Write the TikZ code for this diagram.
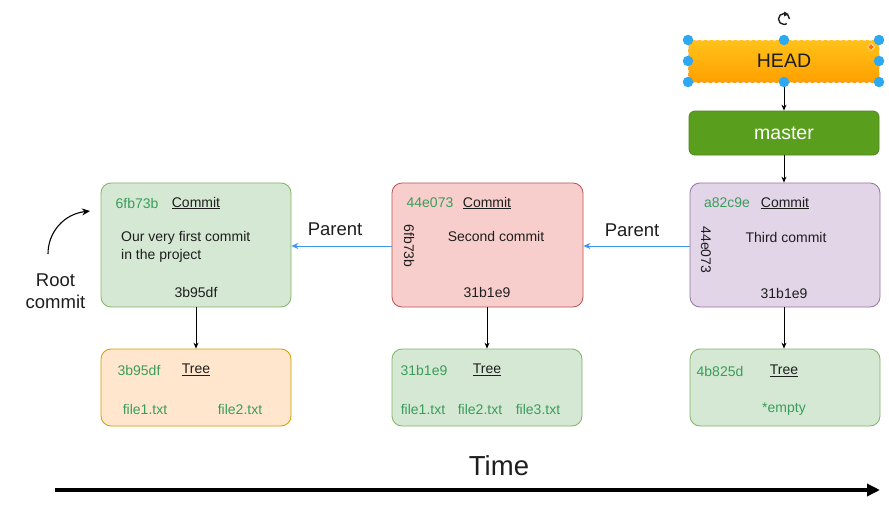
\documentclass[tikz,border=0pt]{standalone}
\usepackage{fontspec}
\setmainfont{Liberation Sans}
\usetikzlibrary{arrows.meta,shapes.geometric}
\definecolor{gfill}{HTML}{D5E8D4}\definecolor{gline}{HTML}{82B366}
\definecolor{rfill}{HTML}{F8CECC}\definecolor{rline}{HTML}{B85450}
\definecolor{pfill}{HTML}{E1D5E7}\definecolor{pline}{HTML}{9673A6}
\definecolor{ofill}{HTML}{FFE6CC}\definecolor{oline}{HTML}{D79B00}
\definecolor{hash}{HTML}{3A9D5B}
\definecolor{txt}{HTML}{1E1E1E}
\definecolor{blu}{HTML}{3C96F0}
\definecolor{masterc}{HTML}{5A9E1E}
\definecolor{headtop}{HTML}{FFC21A}\definecolor{headbot}{HTML}{FFA000}
\definecolor{handle}{HTML}{2EA8F0}
\tikzset{
  box/.style={draw, rounded corners=10pt, line width=0.8pt},
  lbl/.style={font=\fontsize{14}{16}\selectfont, text=txt, inner sep=0pt},
  hsh/.style={font=\fontsize{14}{16}\selectfont, text=hash, inner sep=0pt},
  und/.style={font=\fontsize{14}{16}\selectfont, text=txt, inner sep=0pt},
  conn/.style={-{Stealth[length=6pt,width=5pt]}, line width=0.9pt, black},
  parc/.style={-{Stealth[length=7pt,width=6pt]}, line width=0.8pt, blu},
  hnd/.style={circle, fill=handle, inner sep=0pt, minimum size=10.5pt},
  big/.style={font=\fontsize{18.5}{22}\selectfont, text=txt},
}
\newcommand{\ul}[1]{\underline{#1}}
\begin{document}
\begin{tikzpicture}[x=1pt,y=-1pt]
\useasboundingbox[fill=white] (0,0) rectangle (889,506);
% HEAD
\shade[top color=headtop, bottom color=headbot, draw=white!70!orange, dashed, line width=0.5pt] (688,40) rectangle (879,82);
\node[font=\fontsize{19.5}{22}\selectfont, text=txt] (head) at (784,61) {HEAD};
\coordinate (headb) at (784,82);
% master
\node[box, rounded corners=6pt, fill=masterc, draw=masterc!85!black, minimum width=190pt, minimum height=44pt, inner sep=0pt, text=white, font=\fontsize{19.5}{22}\selectfont] (master) at (784,133) {master};
% commits
\node[box, fill=gfill, draw=gline, minimum width=190pt, minimum height=124pt] (c1) at (196,245) {};
\node[box, fill=rfill, draw=rline, minimum width=191pt, minimum height=124pt] (c2) at (487.5,245) {};
\node[box, fill=pfill, draw=pline, minimum width=190pt, minimum height=124pt] (c3) at (785,245) {};
% trees
\node[box, fill=ofill, draw=oline, minimum width=190pt, minimum height=77pt] (t1) at (196,387.5) {};
\node[box, fill=gfill, draw=gline, minimum width=190pt, minimum height=77pt] (t2) at (487,387.5) {};
\node[box, fill=gfill, draw=gline, minimum width=190pt, minimum height=77pt] (t3) at (785,387.5) {};
% connectors
\draw[conn] (headb) -- (master.north);
\draw[conn] (master.south) -- (c3.north -| master.south);
\draw[conn] (c1.south) -- (t1.north);
\draw[conn] (c2.south -| t2.north) -- (t2.north);
\draw[conn] (c3.south -| 784,0) -- (t3.north -| 784,0);
\draw[parc] (c2.west |- 0,246) -- (c1.east |- 0,246);
\draw[parc] (c3.west |- 0,246) -- (c2.east |- 0,246);
\node[big] (p1) at (335,229) {Parent};
\node[big] (p2) at (632,230) {Parent};
% commit 1 texts
\node[hsh] (c1h) at (137,203) {6fb73b};
\node[und] (c1t) at (196,203) {\ul{Commit}};
\node[lbl, anchor=west, align=left] (c1m) at (121,246.5) {Our very first commit\\[2pt]in the project};
\node[lbl] (c1r) at (196,292) {3b95df};
% commit 2 texts
\node[hsh] (c2h) at (430,203) {44e073};
\node[und] (c2t) at (487,203) {\ul{Commit}};
\node[lbl, rotate=-90] (c2p) at (409,246) {6fb73b};
\node[lbl] (c2m) at (496,236) {Second commit};
\node[lbl] (c2r) at (487,292) {31b1e9};
% commit 3 texts
\node[hsh] (c3h) at (727,203) {a82c9e};
\node[und] (c3t) at (785,203) {\ul{Commit}};
\node[lbl, rotate=-90] (c3p) at (706,250) {44e073};
\node[lbl] (c3m) at (786,237) {Third commit};
\node[lbl] (c3r) at (784,293) {31b1e9};
% tree texts
\node[hsh] (t1h) at (139,370) {3b95df};
\node[und] (t1t) at (196,370) {\ul{Tree}};
\node[hsh] (t1a) at (145,409) {file1.txt};
\node[hsh] (t1b) at (240,409) {file2.txt};
\node[hsh] (t2h) at (424,370) {31b1e9};
\node[und] (t2t) at (487,370) {\ul{Tree}};
\node[hsh] (t2a) at (423,409) {file1.txt};
\node[hsh] (t2b) at (480,409) {file2.txt};
\node[hsh] (t2c) at (538,409) {file3.txt};
\node[hsh] (t3h) at (720,371) {4b825d};
\node[und] (t3t) at (784,371) {\ul{Tree}};
\node[hsh] (t3a) at (784,409) {*empty};
% root commit
\node[font=\fontsize{18.5}{22}\selectfont, text=txt, align=center] (root) at (55.5,291) {Root\\commit};
\coordinate (rs) at (48,254);
\coordinate (re) at (90,211);
\draw[-{Stealth[length=8pt,width=7pt]}, line width=1.1pt] (rs) .. controls (48,232) and (64,214) .. (re);
% time
\node[font=\fontsize{27.5}{30}\selectfont, text=txt] (time) at (499,466) {Time};
\coordinate (ts) at (55,490);
\coordinate (te) at (880,490);
\draw[-{Triangle[length=13pt,width=12pt]}, line width=3.5pt] (ts) -- (te);
% selection handles
\foreach \px/\py in {688/40,784/40,879/40,688/61,879/61,688/82,784/82,879/82}
  \node[hnd] at (\px,\py) {};
\node[diamond, fill=orange!90!red, draw=white, inner sep=0pt, minimum size=7pt, line width=0.5pt] (rd) at (871,47) {};
\draw[line width=1.4pt, txt] (789.5,19) arc[start angle=0, end angle=300, radius=5.5pt];
\fill[txt] (784,11.5) -- (788.5,14) -- (784,16.5) -- cycle;
\end{tikzpicture}
\end{document}
